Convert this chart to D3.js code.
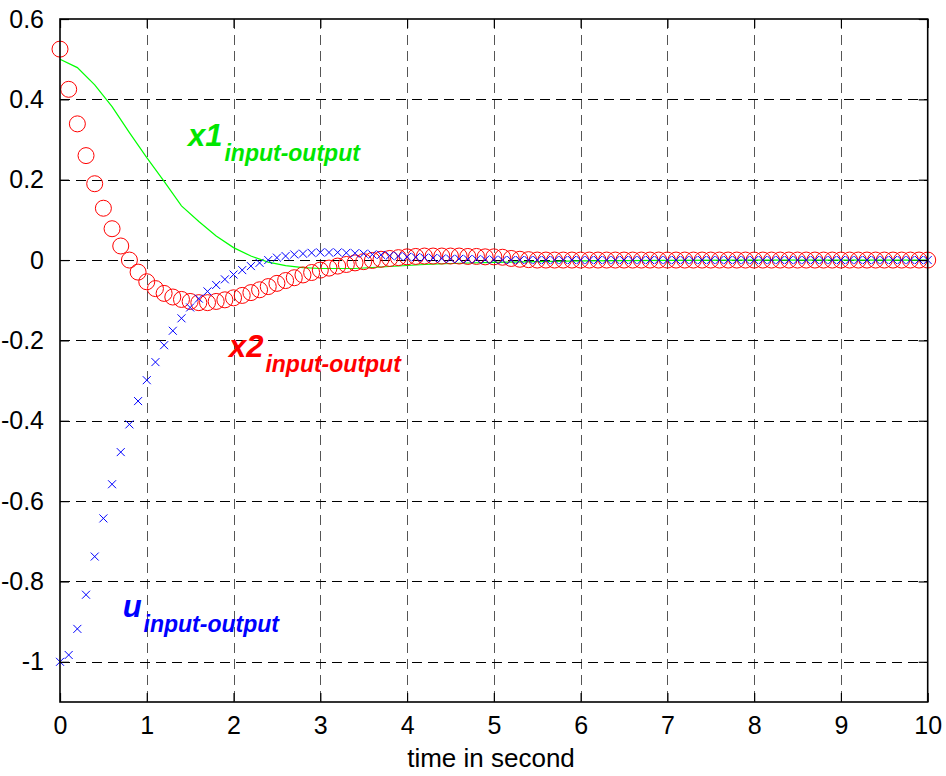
<!DOCTYPE html>
<html>
<head>
<meta charset="utf-8">
<script src="https://cdn.jsdelivr.net/npm/d3@7"></script>
<style>
  body { margin: 0; background: #fff; }
  svg { display: block; font-family: "Liberation Sans", Arial, sans-serif; }
</style>
</head>
<body>
<div id="chart"></div>
<script>
// sample step of the simulation output (x2 and u are plotted at every sample)
const dt = 0.1;

// x2 (red circles), one value per sample from t=0 to t=10
const x2Values = [
  0.525, 0.425, 0.339, 0.260, 0.190, 0.129, 0.078, 0.035, 0.000, -0.030,
  -0.054, -0.071, -0.083, -0.092, -0.098, -0.103, -0.106, -0.106, -0.103, -0.099,
  -0.094, -0.088, -0.081, -0.074, -0.066, -0.058, -0.051, -0.044, -0.037, -0.031,
  -0.025, -0.020, -0.015, -0.011, -0.007, -0.004, -0.001, 0.002, 0.004, 0.006,
  0.008, 0.009, 0.010, 0.010, 0.010, 0.010, 0.010, 0.009, 0.009, 0.008,
  0.008, 0.007, 0.004, 0.002, 0.001, 0, 0, 0, 0, 0,
  0, 0, 0, 0, 0, 0, 0, 0, 0, 0,
  0, 0, 0, 0, 0, 0, 0, 0, 0, 0,
  0, 0, 0, 0, 0, 0, 0, 0, 0, 0,
  0, 0, 0, 0, 0, 0, 0, 0, 0, 0,
  0
];

// u (blue crosses), one value per sample from t=0 to t=10
const uValues = [
  -1.000, -0.983, -0.918, -0.833, -0.738, -0.643, -0.558, -0.478, -0.409, -0.351,
  -0.299, -0.254, -0.212, -0.176, -0.145, -0.118, -0.096, -0.078, -0.062, -0.048,
  -0.036, -0.025, -0.015, -0.007, 0.000, 0.006, 0.010, 0.014, 0.016, 0.018,
  0.019, 0.019, 0.019, 0.018, 0.017, 0.016, 0.014, 0.013, 0.011, 0.010,
  0.008, 0.007, 0.006, 0.005, 0.004, 0.003, 0.003, 0.002, 0.002, 0.001,
  0.001, 0, 0, 0, 0, 0, 0, 0, 0, 0,
  0, 0, 0, 0, 0, 0, 0, 0, 0, 0,
  0, 0, 0, 0, 0, 0, 0, 0, 0, 0,
  0, 0, 0, 0, 0, 0, 0, 0, 0, 0,
  0, 0, 0, 0, 0, 0, 0, 0, 0, 0,
  0
];

// x1 (green line)
const x1Times  = [0, 0.2, 0.4, 0.6, 0.8, 1.0, 1.2, 1.4, 1.6, 1.8, 2.0, 2.2, 2.4, 2.6, 2.8, 3.0, 3.4, 3.8, 4.2, 4.6, 5.0, 5.5, 6, 7, 8, 10];
const x1Values = [0.500, 0.479, 0.436, 0.382, 0.317, 0.255, 0.196, 0.135, 0.096, 0.060, 0.031, 0.010, -0.005, -0.014, -0.019, -0.021, -0.021, -0.016, -0.011, -0.008, -0.006, -0.004, -0.002, -0.001, 0, 0];

const xTicks = [0, 1, 2, 3, 4, 5, 6, 7, 8, 9, 10];
const yTicks = [0.6, 0.4, 0.2, 0, -0.2, -0.4, -0.6, -0.8, -1];

const labels = [
  { main: "x1", sub: "input-output", t: 1.475, v: 0.283, color: "#00e600" },
  { main: "x2", sub: "input-output", t: 1.947, v: -0.242, color: "#ff0000" },
  { main: "u",  sub: "input-output", t: 0.722, v: -0.889, color: "#0000ff" }
];

const width = 946, height = 776;
const pLeft = 60, pRight = 927.7, pTop = 19, pBottom = 702;

const svg = d3.select("#chart").append("svg")
  .attr("width", width)
  .attr("height", height);

const x = d3.scaleLinear().domain([0, 10]).range([pLeft, pRight]);
const y = d3.scaleLinear().domain([-1.1, 0.6]).range([pBottom, pTop]);

// grid
const grid = svg.append("g")
  .attr("stroke", "#000")
  .attr("stroke-width", 1)
  .attr("stroke-dasharray", "10,6");

grid.selectAll("line.v")
  .data(xTicks.filter(d => d > 0 && d < 10))
  .join("line")
  .attr("class", "v")
  .attr("stroke", "#555")
  .attr("x1", d => Math.round(x(d)) + 0.5).attr("x2", d => Math.round(x(d)) + 0.5)
  .attr("y1", pTop).attr("y2", pBottom);

grid.selectAll("line.h")
  .data(yTicks.filter(d => d < 0.6))
  .join("line")
  .attr("class", "h")
  .attr("x1", pLeft).attr("x2", pRight)
  .attr("y1", d => Math.round(y(d)) + 0.5).attr("y2", d => Math.round(y(d)) + 0.5);

const sampleTime = (d, i) => i * dt;

// x1 line
const line = d3.line()
  .x((d, i) => x(x1Times[i]))
  .y(d => y(d));

svg.append("path")
  .datum(x1Values)
  .attr("fill", "none")
  .attr("stroke", "#00ff00")
  .attr("stroke-width", 1.2)
  .attr("d", line);

// x2 circles
svg.append("g")
  .selectAll("circle")
  .data(x2Values)
  .join("circle")
  .attr("cx", (d, i) => x(sampleTime(d, i)))
  .attr("cy", d => y(d))
  .attr("r", 8)
  .attr("fill", "none")
  .attr("stroke", "#ff0000")
  .attr("stroke-width", 1);

// u crosses
const cs = 4;
svg.append("g")
  .selectAll("path")
  .data(uValues)
  .join("path")
  .attr("transform", (d, i) => `translate(${x(sampleTime(d, i))},${y(d)})`)
  .attr("d", `M${-cs},${-cs}L${cs},${cs}M${-cs},${cs}L${cs},${-cs}`)
  .attr("fill", "none")
  .attr("stroke", "#0000ff")
  .attr("stroke-width", 1);

// axes box with inward ticks
const axisColor = "#000";
const fmt = d => String(Math.round(d * 10) / 10);

const xb = svg.append("g").attr("transform", `translate(0,${pBottom})`)
  .call(d3.axisBottom(x).tickValues(xTicks).tickSizeInner(-9).tickSizeOuter(0).tickPadding(14).tickFormat(fmt));
const xt = svg.append("g").attr("transform", `translate(0,${pTop})`)
  .call(d3.axisTop(x).tickValues(xTicks).tickSizeInner(-9).tickSizeOuter(0).tickFormat(""));
const yl = svg.append("g").attr("transform", `translate(${pLeft},0)`)
  .call(d3.axisLeft(y).tickValues(yTicks).tickSizeInner(-9).tickSizeOuter(0).tickPadding(16).tickFormat(fmt));
const yr = svg.append("g").attr("transform", `translate(${pRight},0)`)
  .call(d3.axisRight(y).tickValues(yTicks).tickSizeInner(-9).tickSizeOuter(0).tickFormat(""));

[xb, xt, yl, yr].forEach(g => {
  g.select(".domain").remove();
  g.selectAll(".tick line").attr("stroke", axisColor).attr("stroke-width", 1.2);
  g.selectAll(".tick text")
    .attr("fill", "#000")
    .style("font-size", "25px")
    .style("font-family", '"Liberation Sans", Arial, sans-serif');
});

svg.append("rect")
  .attr("x", pLeft).attr("y", pTop)
  .attr("width", pRight - pLeft).attr("height", pBottom - pTop)
  .attr("fill", "none")
  .attr("stroke", axisColor)
  .attr("stroke-width", 1.6);

// x label
svg.append("text")
  .attr("x", 491)
  .attr("y", 767)
  .attr("text-anchor", "middle")
  .style("font-size", "26px")
  .text("time in second");

// series labels with subscripts
labels.forEach(l => {
  const txt = svg.append("text")
    .attr("x", x(l.t))
    .attr("y", y(l.v))
    .attr("fill", l.color)
    .style("font-weight", "bold")
    .style("font-style", "italic")
    .style("font-size", "31px");
  txt.append("tspan").text(l.main);
  txt.append("tspan")
    .attr("dx", 2)
    .attr("dy", 15)
    .style("font-size", "23px")
    .text(l.sub);
});
</script>
</body>
</html>
